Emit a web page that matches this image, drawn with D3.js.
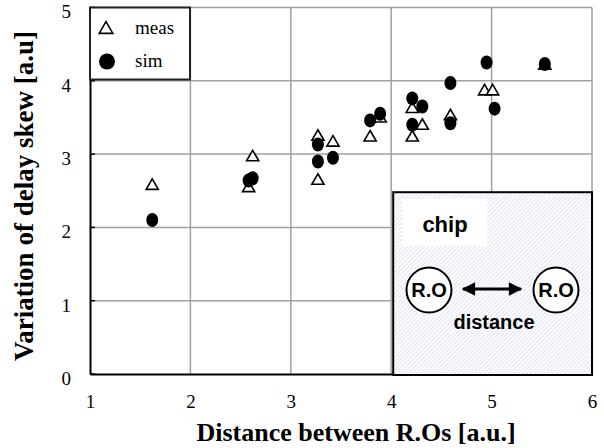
<!DOCTYPE html>
<html>
<head>
<meta charset="utf-8">
<script src="https://cdn.jsdelivr.net/npm/d3@7"></script>
<style>
  body { margin: 0; background: #fff; }
  svg { display: block; }
</style>
</head>
<body>
<svg id="chart"></svg>
<script>
// measured points
const measX = [1.62, 2.58, 2.62, 3.27, 3.27, 3.42, 3.79, 3.89, 4.21, 4.21, 4.31, 4.59, 4.93, 5.01, 5.53]
const measY = [2.58, 2.55, 2.97, 3.25, 2.65, 3.17, 3.24, 3.50, 3.63, 3.24, 3.40, 3.53, 3.87, 3.87, 4.22]
// simulated points
const simX = [1.62, 2.58, 2.62, 3.27, 3.27, 3.42, 3.79, 3.89, 4.21, 4.21, 4.31, 4.59, 4.59, 4.95, 5.03, 5.53]
const simY = [2.10, 2.64, 2.67, 3.13, 2.90, 2.95, 3.46, 3.55, 3.76, 3.40, 3.65, 3.97, 3.42, 4.25, 3.62, 4.23]

const xTicks = [1, 2, 3, 4, 5, 6]
const yTicks = [0, 1, 2, 3, 4, 5]
const seriesNames = ['meas', 'sim']

const width = 604, height = 448
const plot = { left: 90, right: 592, top: 7.5, bottom: 374 }
const serif = '"Liberation Serif", "Times New Roman", serif'
const sans = '"Liberation Sans", Arial, sans-serif'

const svg = d3.select('#chart')
  .attr('width', width)
  .attr('height', height)

const x = d3.scaleLinear().domain([1, 6]).range([plot.left, plot.right])
const y = d3.scaleLinear().domain([0, 5]).range([plot.bottom, plot.top])

// grid
svg.append('g')
  .selectAll('line')
  .data(xTicks.slice(1))
  .join('line')
  .attr('x1', d => x(d)).attr('x2', d => x(d))
  .attr('y1', plot.top).attr('y2', plot.bottom)
  .attr('stroke', '#a0a0a0').attr('stroke-width', 1.5)

svg.append('g')
  .selectAll('line')
  .data(yTicks.slice(1))
  .join('line')
  .attr('x1', plot.left).attr('x2', plot.right)
  .attr('y1', d => y(d)).attr('y2', d => y(d))
  .attr('stroke', '#a0a0a0').attr('stroke-width', 1.5)

// axes
const xAxis = svg.append('g')
  .attr('transform', `translate(0,${plot.bottom})`)
  .call(d3.axisBottom(x).tickValues(xTicks).tickSize(0).tickPadding(21).tickFormat(d3.format('d')))
xAxis.select('.domain').attr('stroke', '#000').attr('stroke-width', 2)
xAxis.selectAll('text').attr('font-family', serif).attr('font-size', 19).attr('fill', '#000')

const yAxis = svg.append('g')
  .attr('transform', `translate(${plot.left},0)`)
  .call(d3.axisLeft(y).tickValues(yTicks).tickSize(0).tickPadding(19).tickFormat(d3.format('d')))
yAxis.select('.domain').attr('stroke', '#000').attr('stroke-width', 2)
yAxis.selectAll('text').attr('font-family', serif).attr('font-size', 19).attr('fill', '#000')
  .attr('dy', '0.55em')

// small inner ticks on y axis
svg.append('g')
  .selectAll('line')
  .data(yTicks)
  .join('line')
  .attr('x1', plot.left).attr('x2', plot.left + 5)
  .attr('y1', d => y(d)).attr('y2', d => y(d))
  .attr('stroke', '#000').attr('stroke-width', 1.5)

// axis titles
svg.append('text')
  .attr('x', 356).attr('y', 441)
  .attr('text-anchor', 'middle')
  .attr('font-family', serif).attr('font-weight', 'bold').attr('font-size', 26)
  .text('Distance between R.Os [a.u.]')

svg.append('text')
  .attr('transform', 'translate(33,196) rotate(-90)')
  .attr('text-anchor', 'middle')
  .attr('font-family', serif).attr('font-weight', 'bold').attr('font-size', 27)
  .text('Variation of delay skew [a.u]')

// inset illustration
const defs = svg.append('defs')
const pat = defs.append('pattern')
  .attr('id', 'hatch')
  .attr('patternUnits', 'userSpaceOnUse')
  .attr('width', 3).attr('height', 3)
  .attr('patternTransform', 'rotate(45)')
pat.append('rect').attr('width', 3).attr('height', 3).attr('fill', '#fff')
pat.append('line').attr('x1', 0).attr('y1', 0).attr('x2', 0).attr('y2', 3)
  .attr('stroke', '#c4c4ee').attr('stroke-width', 1)

const mk = defs.append('marker')
  .attr('id', 'head')
  .attr('viewBox', '0 0 10 10')
  .attr('refX', 9).attr('refY', 5)
  .attr('markerWidth', 5).attr('markerHeight', 4.5)
  .attr('markerUnits', 'strokeWidth')
  .attr('orient', 'auto-start-reverse')
mk.append('path').attr('d', 'M0,0 L10,5 L0,10 Z').attr('fill', '#000')

const inset = svg.append('g')
inset.append('rect')
  .attr('x', x(4.02)).attr('y', y(2.48))
  .attr('width', x(6) - x(4.02)).attr('height', y(0) - y(2.48) + 1)
  .attr('fill', 'url(#hatch)')
  .attr('stroke', '#000').attr('stroke-width', 2)

inset.append('rect')
  .attr('x', 402).attr('y', 199).attr('width', 85).attr('height', 47)
  .attr('fill', '#fff')
inset.append('text')
  .attr('x', 445).attr('y', 232)
  .attr('text-anchor', 'middle')
  .attr('font-family', sans).attr('font-weight', 'bold').attr('font-size', 22)
  .text('chip')

const roX = [429, 556]
inset.selectAll('g.ro')
  .data(roX)
  .join('g')
  .attr('transform', d => `translate(${d},290)`)
  .each(function() {
    const g = d3.select(this)
    g.append('circle').attr('r', 22.5).attr('fill', '#fff').attr('stroke', '#000').attr('stroke-width', 2)
    g.append('text').attr('text-anchor', 'middle').attr('dy', 7)
      .attr('font-family', sans).attr('font-weight', 'bold').attr('font-size', 20)
      .text('R.O')
  })

inset.append('line')
  .attr('x1', 463).attr('x2', 521).attr('y1', 289).attr('y2', 289)
  .attr('stroke', '#000').attr('stroke-width', 3)
  .attr('marker-start', 'url(#head)').attr('marker-end', 'url(#head)')

inset.append('text')
  .attr('x', 494).attr('y', 329)
  .attr('text-anchor', 'middle')
  .attr('font-family', sans).attr('font-weight', 'bold').attr('font-size', 20)
  .text('distance')

// markers
const tri = d3.symbol().type(d3.symbolTriangle).size(64)

svg.append('g')
  .selectAll('path')
  .data(measX.map((v, i) => [v, measY[i]]))
  .join('path')
  .attr('d', tri)
  .attr('transform', d => `translate(${x(d[0])},${y(d[1]) + 1})`)
  .attr('fill', '#fff').attr('stroke', '#000').attr('stroke-width', 1.6)

svg.append('g')
  .selectAll('ellipse')
  .data(simX.map((v, i) => [v, simY[i]]))
  .join('ellipse')
  .attr('cx', d => x(d[0])).attr('cy', d => y(d[1]))
  .attr('rx', 6).attr('ry', 7)
  .attr('fill', '#000')

// legend
const legend = svg.append('g')
legend.append('rect')
  .attr('x', plot.left).attr('y', plot.top)
  .attr('width', 100).attr('height', 72)
  .attr('fill', '#fff').attr('stroke', '#222').attr('stroke-width', 2)

const legRows = legend.selectAll('g.row')
  .data(seriesNames)
  .join('g')
  .attr('transform', (d, i) => `translate(${plot.left},${plot.top + 21 + i * 33})`)

legRows.filter(d => d === 'meas').append('path')
  .attr('d', d3.symbol().type(d3.symbolTriangle).size(80))
  .attr('transform', 'translate(16,1)')
  .attr('fill', '#fff').attr('stroke', '#000').attr('stroke-width', 1.6)
legRows.filter(d => d === 'sim').append('circle')
  .attr('cx', 17).attr('cy', 0).attr('r', 8).attr('fill', '#000')

legRows.append('text')
  .attr('x', 45).attr('y', 5)
  .attr('font-family', serif).attr('font-size', 19)
  .text(d => d)
</script>
</body>
</html>
